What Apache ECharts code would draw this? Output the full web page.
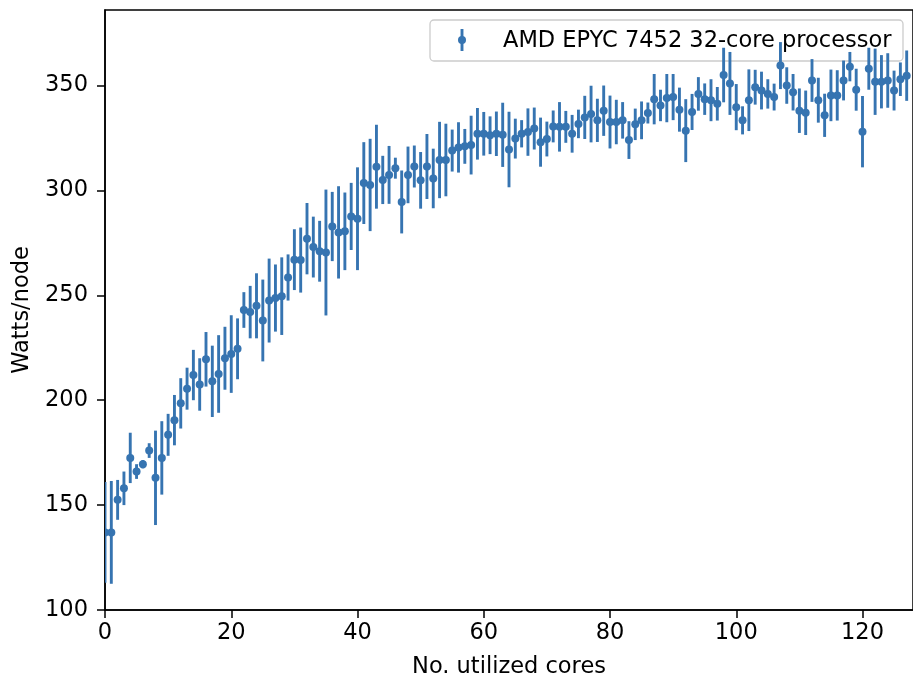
<!DOCTYPE html>
<html><head><meta charset="utf-8">
<script src="https://cdn.jsdelivr.net/npm/echarts@6/dist/echarts.min.js"></script>
<style>html,body{margin:0;padding:0;background:#fff}#c{width:913px;height:684px}</style>
</head><body><div id="c"></div>
<script>
const seriesName = 'AMD EPYC 7452 32-core processor';
const xTitle = 'No. utilized cores';
const yTitle = 'Watts/node';
const xTicks = [0, 20, 40, 60, 80, 100, 120];
const yTicks = [100, 150, 200, 250, 300, 350];
const cores = [0,1,2,3,4,5,6,7,8,9,10,11,12,13,14,15,16,17,18,19,20,21,22,23,24,25,26,27,28,29,30,31,32,33,34,35,36,37,38,39,40,41,42,43,44,45,46,47,48,49,50,51,52,53,54,55,56,57,58,59,60,61,62,63,64,65,66,67,68,69,70,71,72,73,74,75,76,77,78,79,80,81,82,83,84,85,86,87,88,89,90,91,92,93,94,95,96,97,98,99,100,101,102,103,104,105,106,107,108,109,110,111,112,113,114,115,116,117,118,119,120,121,122,123,124,125,126,127];
const watts = [137,137,152.5,158,172.5,166,169.5,176,163,172.5,
183.5,190.5,198.5,205.5,212,207.5,219.5,209,212.5,220,
222,224.5,243,242,245,238,247.5,248.7,249.6,258.5,
267,266.8,277,273,271,270.4,282.8,280,280.5,287.6,
286.5,303.5,302.6,311.3,305,307.4,310.6,294.5,307.4,311.4,
304.8,311.4,305.7,314.5,314.5,319,320.5,321,321.6,327,
327,326.3,327,326.5,319.5,324.7,327,327.8,329.5,323,
324.5,330.5,330.3,330.3,327,331.7,334.8,336.4,333.4,338,
332.6,332.6,333.4,324,331.5,333.4,336.9,343.5,340.5,344,
344.5,338.5,328.5,337.4,346,343.5,343,341.3,355,351,
339.7,333.4,343,349.2,347.6,346,344.5,359.5,350,346.8,
338,337,352.4,343,335.8,345.3,345.3,352.4,359,348,
328,358,351.8,351.8,352.4,347.6,353,354.7];
const errs = [24,24.5,9.5,8,12,3.5,2,3.5,22.5,17.5,
10,12,12,10,12,12.5,13,17,18.5,15,
18.5,14.5,8.5,12.5,15.5,19.5,20,16,18.5,11,
14.5,15.5,17,14.5,14.5,30,16.5,22,18.5,16,
24.5,19.5,22,20,11.5,13.8,5,15,13.5,10,
13.5,15.5,14.2,18.2,17.3,10,12,8.3,14,12.3,
10.4,9,10.6,15.3,18,9.5,6.5,11.3,10,11.7,
8.3,7.6,11.8,7.6,9,6.8,10.3,13.5,10.3,12,
12.6,10.6,8.7,9,7.5,9,5,12,7.5,11.5,
11,10.5,15,8.6,8,7.5,10,8,13,15,
11,6.7,14.7,8.3,9,7,6.4,11.2,8.7,8.7,
10.6,10.6,10.2,10.7,10.3,12.3,12,9.5,7,10,
17,10,15.8,12.7,13,9.5,8,12];

const COLOR = '#3674b1';
const FONT = 'DejaVu Sans';
const FS = 22.5;
const data = cores.map((c, i) => [c, watts[i], errs[i]]);

const chart = echarts.init(document.getElementById('c'), null, {renderer: 'canvas'});
chart.setOption({
  animation: false,
  backgroundColor: '#fff',
  grid: {left: 105, right: -3, top: 10, bottom: 71, show: true, borderColor: '#000', borderWidth: 1.5, backgroundColor: 'transparent'},
  xAxis: {
    type: 'value', min: 0, max: 128,
    name: xTitle, nameLocation: 'middle', nameGap: 46,
    nameTextStyle: {fontFamily: FONT, fontSize: FS, color: '#000'},
    axisLine: {onZero: false, lineStyle: {color: '#000', width: 1.5}},
    axisTick: {show: true, length: 8, lineStyle: {color: '#000', width: 1.5}, customValues: xTicks},
    axisLabel: {fontFamily: FONT, fontSize: FS, color: '#000', margin: 12, customValues: xTicks},
    splitLine: {show: false}
  },
  yAxis: {
    type: 'value', min: 100, max: 386,
    name: yTitle, nameLocation: 'middle', nameGap: 71, nameRotate: 90,
    nameTextStyle: {fontFamily: FONT, fontSize: FS, color: '#000'},
    axisLine: {onZero: false, lineStyle: {color: '#000', width: 1.5}},
    axisTick: {show: true, length: 8, lineStyle: {color: '#000', width: 1.5}, customValues: yTicks},
    axisLabel: {fontFamily: FONT, fontSize: FS, color: '#000', margin: 17, customValues: yTicks},
    splitLine: {show: false}
  },
  series: [{
    type: 'custom',
    name: seriesName,
    data: data,
    z: 2,
    renderItem: function (params, api) {
      const x = api.value(0), y = api.value(1), e = api.value(2);
      const top = api.coord([x, y + e]);
      const bot = api.coord([x, y - e]);
      const c = api.coord([x, y]);
      const cs = params.coordSys;
      return {
        type: 'group',
        clipPath: {type: 'rect', shape: {x: cs.x, y: cs.y, width: cs.width, height: cs.height}},
        children: [
          {type: 'line', shape: {x1: top[0], y1: top[1], x2: bot[0], y2: bot[1]}, style: {stroke: COLOR, lineWidth: 2.9}},
          {type: 'circle', shape: {cx: c[0], cy: c[1], r: 4}, style: {fill: COLOR}}
        ]
      };
    }
  }],
  graphic: [{
    type: 'group', z: 100,
    children: [
      {type: 'rect', shape: {x: 430, y: 20, width: 473, height: 41, r: 4}, style: {fill: 'rgba(255,255,255,0.8)', stroke: '#cccccc', lineWidth: 1.3}},
      {type: 'line', shape: {x1: 462, y1: 29, x2: 462, y2: 51}, style: {stroke: COLOR, lineWidth: 2.9}},
      {type: 'circle', shape: {cx: 462, cy: 40, r: 4}, style: {fill: COLOR}},
      {type: 'text', x: 503, y: 41, style: {text: seriesName, fontFamily: FONT, fontSize: FS, fill: '#000', verticalAlign: 'middle', align: 'left'}}
    ]
  }]
});
</script>
</body></html>
